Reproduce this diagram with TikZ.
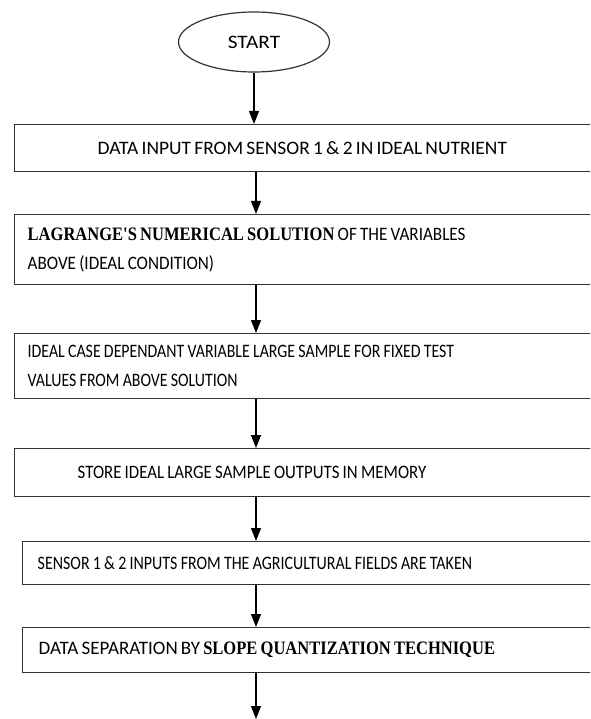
\documentclass[tikz,border=0pt]{standalone}
\usepackage{fontspec}
\setmainfont{Carlito}
\newfontfamily\boldserif{Liberation Serif}
\usetikzlibrary{shapes.geometric,arrows.meta}

\tikzset{
    flowbox/.style={draw=black!80, line width=1.4pt, anchor=north west,
        align=left, inner ysep=0pt,
        font=\fontsize{19}{29}\selectfont\addfontfeature{FakeStretch=#1},
        execute at begin node={\spaceskip=0.17em plus 0.02em\relax}},
    flowbox/.default=1,
    flowarrow/.style={line width=1.4pt, -{Triangle[width=10pt,length=13pt]}}
}
\newcommand{\serifbold}[2][0.87]{{\boldserif\bfseries\addfontfeature{FakeStretch=#1}#2}}

\begin{document}
\begin{tikzpicture}[x=1pt, y=-1pt]

    % page frame
    \clip (0,0) rectangle (590,719);
    \fill[white] (0,0) rectangle (590,719);

    % Start
    \node[ellipse, draw=black!80, line width=1.2pt, minimum width=151, minimum height=60,
          font=\fontsize{19}{20}\selectfont\addfontfeature{FakeStretch=1.12}] (start) at (254,42) {START};

    % Process boxes
    \node[flowbox=1.025, minimum height=47, inner xsep=83, text width=430] (input) at (14,124)
         {DATA INPUT FROM SENSOR 1 \& 2 IN IDEAL NUTRIENT};

    \node[flowbox=0.9, minimum height=70, inner xsep=13, text width=570] (lagrange) at (14,214)
         {\serifbold{LAGRANGE'S NUMERICAL SOLUTION} OF THE VARIABLES\\ABOVE (IDEAL CONDITION)};

    \node[flowbox=0.835, minimum height=65, inner xsep=13, text width=570] (sample) at (14,333)
         {IDEAL CASE DEPENDANT VARIABLE LARGE SAMPLE FOR FIXED TEST\\VALUES FROM ABOVE SOLUTION};

    \node[flowbox=0.885, minimum height=48, inner xsep=63, text width=470] (store) at (14,448)
         {STORE IDEAL LARGE SAMPLE OUTPUTS IN MEMORY};

    \node[flowbox=0.84, minimum height=43, inner xsep=15, text width=560] (field) at (22,541)
         {SENSOR 1 \& 2 INPUTS FROM THE AGRICULTURAL FIELDS ARE TAKEN};

    \node[flowbox, minimum height=45, inner xsep=16, text width=558] (slope) at (22,627)
         {DATA SEPARATION BY \serifbold{SLOPE QUANTIZATION TECHNIQUE}};

    \coordinate (next) at (256,719);

    % Connectors
    \draw[flowarrow] (start.south) -- (start.south |- input.north);
    \draw[flowarrow] (input.south -| next) -- (lagrange.north -| next);
    \draw[flowarrow] (lagrange.south -| next) -- (sample.north -| next);
    \draw[flowarrow] (sample.south -| next) -- (store.north -| next);
    \draw[flowarrow] (store.south -| next) -- (field.north -| next);
    \draw[flowarrow] (field.south -| next) -- (slope.north -| next);
    \draw[flowarrow] (slope.south -| next) -- (next);

\end{tikzpicture}
\end{document}
